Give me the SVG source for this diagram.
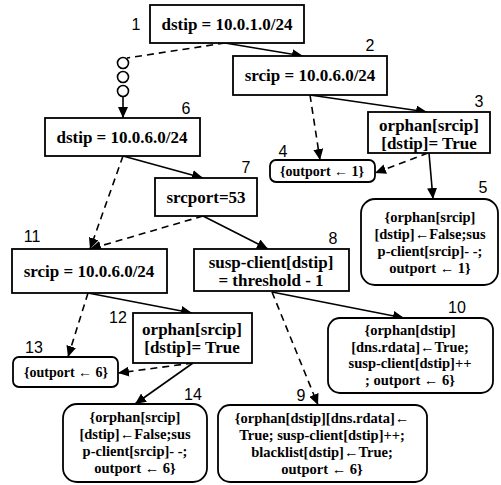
<svg xmlns="http://www.w3.org/2000/svg" width="501" height="485" viewBox="0 0 501 485">
<style>
.box{fill:#fff;stroke:#000;stroke-width:1.8}
text.t{font-family:'Liberation Serif','DejaVu Serif',serif;font-weight:700;text-anchor:middle;fill:#000}
text.big{font-size:17px}
text.act{font-size:14.5px}
text.sm{font-size:14px}
text.lbl{font-family:'Liberation Sans',Arial,sans-serif;font-size:16px;fill:#000;text-anchor:middle}
.sol{stroke:#000;stroke-width:1.6;fill:none;marker-end:url(#ah)}
.das{stroke:#000;stroke-width:1.6;fill:none;stroke-dasharray:7 5;marker-end:url(#ah)}
.dasn{stroke:#000;stroke-width:1.6;fill:none;stroke-dasharray:7 5}
.circ{fill:#fff;stroke:#000;stroke-width:1.6}
</style>
<defs>
<marker id="ah" markerUnits="userSpaceOnUse" markerWidth="12" markerHeight="10" refX="11" refY="5" orient="auto">
<path d="M0,0 L11,5 L0,10 Z" fill="#000"/>
</marker>
</defs>
<rect width="501" height="485" fill="#fff"/>

<g id="connectors">
<line class="sol" x1="225" y1="43" x2="303" y2="56"/>
<line class="dasn" x1="225" y1="43" x2="127" y2="58"/>
<circle class="circ" cx="123" cy="63" r="5.5"/>
<circle class="circ" cx="123" cy="77" r="5.5"/>
<circle class="circ" cx="123" cy="91" r="5.5"/>
<line class="sol" x1="123" y1="96.5" x2="123" y2="118"/>
<line class="sol" x1="310" y1="95" x2="427" y2="112"/>
<line class="das" x1="310" y1="95" x2="320" y2="160"/>
<line class="das" x1="428" y1="153" x2="375" y2="173"/>
<line class="sol" x1="429" y1="153" x2="433" y2="199"/>
<line class="sol" x1="123" y1="156" x2="203" y2="178"/>
<line class="das" x1="123" y1="156" x2="90" y2="249"/>
<line class="das" x1="203" y1="216" x2="90" y2="249"/>
<line class="sol" x1="203" y1="216" x2="268" y2="249"/>
<line class="sol" x1="272" y1="292" x2="404" y2="318"/>
<line class="das" x1="272" y1="292" x2="318" y2="405"/>
<line class="sol" x1="88" y1="293" x2="192" y2="313"/>
<line class="das" x1="88" y1="293" x2="68" y2="357"/>
<line class="das" x1="193" y1="363" x2="118" y2="373"/>
<line class="sol" x1="193" y1="363" x2="135" y2="404"/>
</g>

<g id="n1">
<rect class="box" x="150" y="5" width="154" height="38"/>
<text class="t big" x="227" y="30">dstip = 10.0.1.0/24</text>
<text class="lbl" x="136" y="30">1</text>
</g>
<g id="n2">
<rect class="box" x="233" y="56" width="154" height="39"/>
<text class="t big" x="310" y="81">srcip = 10.0.6.0/24</text>
<text class="lbl" x="370" y="51">2</text>
</g>
<g id="n3">
<rect class="box" x="368" y="112" width="122" height="41"/>
<text class="t big" x="429" y="131">orphan[srcip]</text>
<text class="t big" x="429" y="149">[dstip]= True</text>
<text class="lbl" x="479" y="107">3</text>
</g>
<g id="n4">
<rect class="box" x="270" y="160" width="105" height="22" rx="6"/>
<text class="t sm" x="322" y="176">{outport ← 1}</text>
<text class="lbl" x="283" y="157">4</text>
</g>
<g id="n5">
<rect class="box" x="361" y="199" width="137" height="86" rx="14"/>
<text class="t act" x="430" y="222">{orphan[srcip]</text>
<text class="t act" x="430" y="239">[dstip]←False;sus</text>
<text class="t act" x="430" y="256">p-client[srcip]- -;</text>
<text class="t act" x="430" y="273">outport ← 1}</text>
<text class="lbl" x="483" y="193">5</text>
</g>
<g id="n6">
<rect class="box" x="45" y="118" width="155" height="38"/>
<text class="t big" x="122" y="143">dstip = 10.0.6.0/24</text>
<text class="lbl" x="186" y="114">6</text>
</g>
<g id="n7">
<rect class="box" x="155" y="178" width="102" height="38"/>
<text class="t big" x="206" y="203">srcport=53</text>
<text class="lbl" x="246" y="173">7</text>
</g>
<g id="n8">
<rect class="box" x="194" y="249" width="155" height="42"/>
<text class="t big" x="271" y="268">susp-client[dstip]</text>
<text class="t big" x="271" y="286">= threshold - 1</text>
<text class="lbl" x="333" y="244">8</text>
</g>
<g id="n9">
<rect class="box" x="218" y="405" width="209" height="77" rx="12"/>
<text class="t act" x="322" y="423">{orphan[dstip][dns.rdata]←</text>
<text class="t act" x="322" y="440">True; susp-client[dstip]++;</text>
<text class="t act" x="322" y="457">blacklist[dstip]←True;</text>
<text class="t act" x="322" y="474">outport ← 6}</text>
<text class="lbl" x="301" y="401">9</text>
</g>
<g id="n10">
<rect class="box" x="328" y="318" width="165" height="75" rx="12"/>
<text class="t act" x="410" y="335">{orphan[dstip]</text>
<text class="t act" x="410" y="352">[dns.rdata]←True;</text>
<text class="t act" x="410" y="368">susp-client[dstip]++</text>
<text class="t act" x="410" y="385">; outport ← 6}</text>
<text class="lbl" x="457" y="313">10</text>
</g>
<g id="n11">
<rect class="box" x="12" y="249" width="155" height="44"/>
<text class="t big" x="89" y="277">srcip = 10.0.6.0/24</text>
<text class="lbl" x="32" y="242">11</text>
</g>
<g id="n12">
<rect class="box" x="133" y="313" width="119" height="50"/>
<text class="t big" x="192" y="335">orphan[srcip]</text>
<text class="t big" x="192" y="353">[dstip]= True</text>
<text class="lbl" x="118" y="323">12</text>
</g>
<g id="n13">
<rect class="box" x="13" y="357" width="105" height="30" rx="6"/>
<text class="t sm" x="66" y="377">{outport ← 6}</text>
<text class="lbl" x="34" y="353">13</text>
</g>
<g id="n14">
<rect class="box" x="63" y="404" width="144" height="78" rx="14"/>
<text class="t act" x="135" y="422">{orphan[srcip]</text>
<text class="t act" x="135" y="439">[dstip]←False;sus</text>
<text class="t act" x="135" y="456">p-client[srcip]- -;</text>
<text class="t act" x="135" y="473">outport ← 6}</text>
<text class="lbl" x="193" y="400">14</text>
</g>
</svg>
